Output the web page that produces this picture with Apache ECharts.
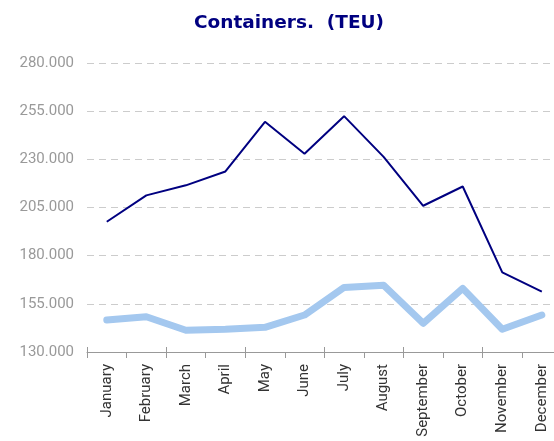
<!DOCTYPE html>
<html><head><meta charset="utf-8">
<script src="https://cdn.jsdelivr.net/npm/echarts@6/dist/echarts.min.js"></script>
<style>html,body{margin:0;padding:0;background:#fff}#c{width:554px;height:441px}</style>
</head><body><div id="c"></div>
<script>
const categories = ['January','February','March','April','May','June','July','August','September','October','November','December'];
const seriesDark = [197600, 211300, 216500, 223700, 249500, 232900, 252400, 231300, 205900, 215900, 171300, 161300];
const seriesLight = [146600, 148300, 141300, 141800, 142800, 149200, 163500, 164700, 144900, 163000, 141800, 149200];
const yTicks = { min: 130000, max: 280000, interval: 25000 };

function fmt(v){ return String(v).replace(/\B(?=(\d{3})+(?!\d))/g, '.'); }

const chart = echarts.init(document.getElementById('c'), null, {renderer:'canvas'});
chart.setOption({
  animation:false,
  title:{ text:'Containers.  (TEU)', left:284, top:9, textAlign:'center',
    textStyle:{ fontFamily:'DejaVu Sans', fontWeight:'bold', fontSize:18.5, color:'#000080' } },
  grid:{ left:87, top:63, height:289, width:474.6, containLabel:false, outerBoundsMode:'none' },
  xAxis:[{
    type:'category', data:categories, boundaryGap:true,
    axisLine:{ lineStyle:{ color:'#999', width:1 } },
    axisTick:{ show:true, length:6, lineStyle:{ color:'#999' } },
    axisLabel:{ rotate:90, margin:12, fontFamily:'Roboto', fontSize:15, color:'#333' }
  },{
    type:'category', data:categories, boundaryGap:true, position:'bottom',
    axisLine:{ show:false },
    axisTick:{ show:true, inside:true, length:5, lineStyle:{ color:'#999' } },
    axisLabel:{ show:false }
  }],
  yAxis:{
    type:'value', min:yTicks.min, max:yTicks.max, interval:yTicks.interval,
    axisLine:{ show:false }, axisTick:{ show:false },
    axisLabel:{ margin:13, fontFamily:'Roboto', fontSize:15, color:'#999', formatter:fmt },
    splitLine:{ lineStyle:{ color:'#ccc', type:[7,5], width:1 } }
  },
  series:[
    { type:'line', data:seriesLight, symbol:'none', lineStyle:{ color:'#a4c8ef', width:7, cap:'round', join:'round' }, z:2 },
    { type:'line', data:seriesDark, symbol:'none', lineStyle:{ color:'#000080', width:2 }, z:3 }
  ]
});
</script></body></html>
